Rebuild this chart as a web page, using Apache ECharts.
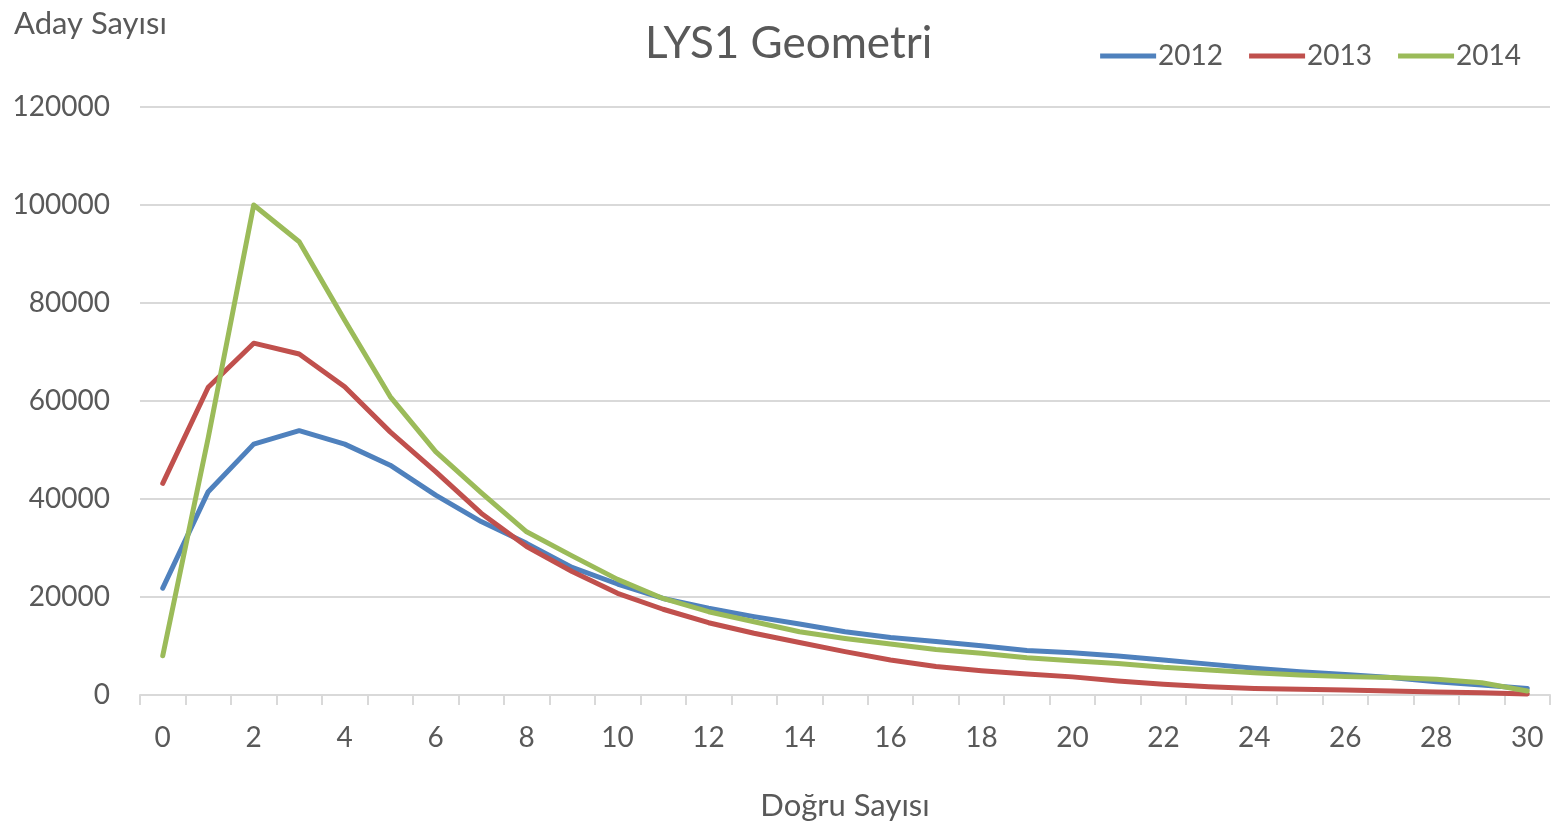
<!DOCTYPE html>
<html>
<head>
<meta charset="utf-8">
<script src="https://cdn.jsdelivr.net/npm/echarts@6/dist/echarts.min.js"></script>
<style>html,body{margin:0;padding:0;background:#fff}#c{width:1562px;height:827px}</style>
</head>
<body>
<div id="c"></div>
<script>
const categories = ['0','1','2','3','4','5','6','7','8','9','10','11','12','13','14','15','16','17','18','19','20','21','22','23','24','25','26','27','28','29','30'];
const s2012 = [21800,41500,51200,53950,51200,46900,40800,35400,30950,26050,22650,19700,17700,16000,14500,12900,11750,10900,10050,9100,8600,7950,7150,6300,5450,4750,4200,3550,2700,2050,1350];
const s2013 = [43200,62800,71800,69600,62900,53700,45600,37100,30300,25200,20750,17500,14750,12600,10700,8850,7150,5800,4950,4300,3700,2850,2200,1700,1350,1150,1000,800,600,450,200];
const s2014 = [8000,52500,100000,92500,76500,60900,49650,41300,33300,28400,23600,19700,17000,14950,12900,11550,10400,9300,8500,7600,7000,6450,5650,5100,4550,4100,3750,3550,3200,2500,800];
const yTicks = [0,20000,40000,60000,80000,100000,120000];
const seriesNames = ['2012','2013','2014'];
const colors = ['#4F81BD','#C0504D','#9BBB59'];

const FONT = 'Lato';
const TXT = '#595959';
const chart = echarts.init(document.getElementById('c'));
const data = [s2012, s2013, s2014];
chart.setOption({
  animation: false,
  textStyle: {fontFamily: FONT},
  title: [
    {text: 'LYS1 Geometri', left: 640, top: 17, textStyle: {fontFamily: FONT, fontSize: 44, fontWeight: 'normal', color: TXT}},
    {text: 'Aday Sayısı', left: 9, top: 3, textStyle: {fontFamily: FONT, fontSize: 31, fontWeight: 'normal', color: TXT}}
  ],
  legend: {
    right: 36, top: 37, itemWidth: 56, itemHeight: 5, itemGap: 26,
    textStyle: {fontFamily: FONT, fontSize: 28, color: TXT, padding: [0,0,0,-3]},
    data: seriesNames.map((n,i)=>({name:n, icon:'path://M0,0 L56,0 L56,5 L0,5 Z', itemStyle:{color:colors[i]}}))
  },
  grid: {left: 140, right: 12, top: 107, bottom: 132},
  xAxis: {
    type: 'category', data: categories, boundaryGap: true,
    name: 'Doğru Sayısı', nameLocation: 'middle', nameGap: 95,
    nameTextStyle: {fontFamily: FONT, fontSize: 31, color: TXT},
    axisLine: {lineStyle: {color: '#d9d9d9', width: 2}},
    axisTick: {show: true, interval: 0, length: 10, lineStyle: {color: '#d9d9d9', width: 2}},
    axisLabel: {interval: 1, margin: 29, fontFamily: FONT, fontSize: 28, color: TXT}
  },
  yAxis: {
    type: 'value', min: yTicks[0], max: yTicks[yTicks.length-1], interval: yTicks[1]-yTicks[0],
    axisLine: {show: false}, axisTick: {show: false},
    splitLine: {lineStyle: {color: '#d9d9d9', width: 2}},
    axisLabel: {margin: 30, fontFamily: FONT, fontSize: 28, color: TXT, formatter: v => String(v)}
  },
  series: data.map((d,i)=>({
    name: seriesNames[i], type: 'line', data: d, symbol: 'none', smooth: false,
    lineStyle: {color: colors[i], width: 5, cap: 'round', join: 'round'},
    itemStyle: {color: colors[i]}
  }))
});
</script>
</body>
</html>
